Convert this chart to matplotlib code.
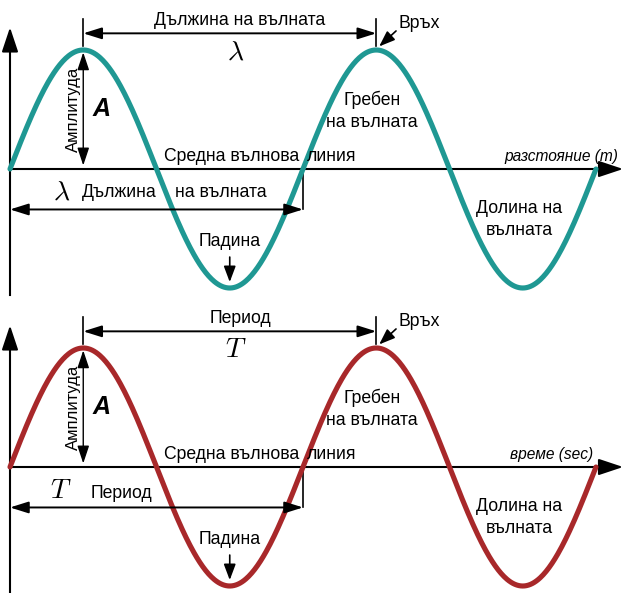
import numpy as np
import matplotlib.pyplot as plt

plt.rcParams['font.family'] = ['Liberation Sans', 'DejaVu Sans']
plt.rcParams['mathtext.fontset'] = 'cm'

# wave data
wavelength = 4.0
amplitude = 1.0
n_waves = 2

teal = '#1f9893'
darkred = '#a8282a'

top_labels = {
    'span': 'Дължина на вълната',
    'sym': r'$\lambda$',
    'span2': ['Дължина', 'на вълната'],
    'axis': 'разстояние (m)',
}
bottom_labels = {
    'span': 'Период',
    'sym': r'$T$',
    'span2': ['Период'],
    'axis': 'време (sec)',
}

FS = 12.7


def arrow(ax, p0, p1, style='<|-|>', lw=1.4, ms=16, hl=0.7, hw=0.22):
    ax.annotate('', xy=p1, xytext=p0,
                arrowprops=dict(arrowstyle='%s,head_length=%g,head_width=%g' % (style, hl, hw),
                                color='black', lw=lw, mutation_scale=ms,
                                shrinkA=0, shrinkB=0))


def draw_panel(ax, color, lab, ybot, axis_right):
    x = np.linspace(0, n_waves * wavelength, 600)
    y = amplitude * np.sin(2 * np.pi * x / wavelength)

    # axes
    ax.plot([0, 8.2], [0, 0], color='black', lw=1.5, zorder=1)
    arrow(ax, (8.0, 0), (8.37, 0), style='-|>', lw=1.5, ms=20, hl=0.75, hw=0.25)
    ax.plot([0, 0], [ybot, 1.05], color='black', lw=1.5, zorder=1)
    arrow(ax, (0, 1.0), (0, 1.19), style='-|>', lw=1.5, ms=20, hl=0.75, hw=0.25)

    ax.plot(x, y, color=color, lw=3.7, zorder=3, solid_capstyle='round')

    peak1 = wavelength / 4
    peak2 = peak1 + wavelength

    # top dimension
    ax.plot([peak1, peak1], [1.03, 1.26], color='black', lw=1.2)
    ax.plot([peak2, peak2], [1.03, 1.26], color='black', lw=1.2)
    arrow(ax, (peak1, 1.14), (peak2, 1.14))
    ax.text(3.14, 1.245, lab['span'], ha='center', va='center', fontsize=FS)
    ax.text(3.08, 0.98, lab['sym'], ha='center', va='center', fontsize=20)

    # peak label
    ax.text(5.3, 1.22, 'Връх', ha='left', va='center', fontsize=FS)
    arrow(ax, (5.27, 1.16), (5.04, 1.03), style='-|>', lw=1.2, ms=12, hl=0.8, hw=0.3)

    # amplitude
    arrow(ax, (peak1, 0.98), (peak1, 0.03), lw=1.0, ms=12, hl=0.9, hw=0.3)
    ax.text(0.86, 0.5, 'Амплитуда', rotation=90, ha='center', va='center',
            fontsize=12)
    ax.text(1.25, 0.5, 'A', ha='center', va='center', fontsize=18,
            fontweight='bold', style='italic')

    # mean line
    ax.text(2.1, 0.03, 'Средна вълнова', ha='left', va='bottom', fontsize=FS)
    ax.text(4.06, 0.03, 'линия', ha='left', va='bottom', fontsize=FS)
    ax.text(axis_right, 0.04, lab['axis'], ha='right', va='bottom',
            fontsize=11.2, style='italic')

    # lower dimension
    ax.plot([wavelength, wavelength], [0, -0.34], color='black', lw=1.2)
    arrow(ax, (0, -0.34), (wavelength, -0.34))
    ax.text(0.7, -0.2, lab['sym'], ha='center', va='center', fontsize=20)
    if len(lab['span2']) == 2:
        ax.text(0.98, -0.2, lab['span2'][0], ha='left', va='center', fontsize=FS)
        ax.text(2.25, -0.2, lab['span2'][1], ha='left', va='center', fontsize=FS)
    else:
        ax.text(1.1, -0.22, lab['span2'][0], ha='left', va='center', fontsize=FS)

    # trough
    ax.text(3.0, -0.61, 'Падина', ha='center', va='center', fontsize=FS)
    arrow(ax, (3.0, -0.74), (3.0, -0.95), style='-|>', lw=1.2, ms=12, hl=0.8, hw=0.3)

    # crest / trough descriptions
    ax.text(4.94, 0.58, 'Гребен', ha='center', va='center', fontsize=FS)
    ax.text(4.94, 0.39, 'на вълната', ha='center', va='center', fontsize=FS)
    ax.text(6.95, -0.33, 'Долина на', ha='center', va='center', fontsize=FS)
    ax.text(6.95, -0.52, 'вълната', ha='center', va='center', fontsize=FS)


fig = plt.figure(figsize=(6.24, 5.93), dpi=100)
W, H = 624.0, 593.0
px = wavelength / 293.0  # data units per pixel in x
py = amplitude / 119.0

ax1 = fig.add_axes([0, 1 - 298 / H, 1, 298 / H])
ax1.set_xlim(-10 * px, 614 * px)
ax1.set_ylim(-(298 - 169) * py, 169 * py)
ax1.set_axis_off()
draw_panel(ax1, teal, top_labels, -(295 - 169) * py, 8.3)

ax2 = fig.add_axes([0, 0, 1, 293 / H])
ax2.set_xlim(-10 * px, 614 * px)
ax2.set_ylim(-(593 - 467) * py, (467 - 300) * py)
ax2.set_axis_off()
draw_panel(ax2, darkred, bottom_labels, -(593 - 467) * py, 7.96)

fig.savefig('out.png', dpi=100)
